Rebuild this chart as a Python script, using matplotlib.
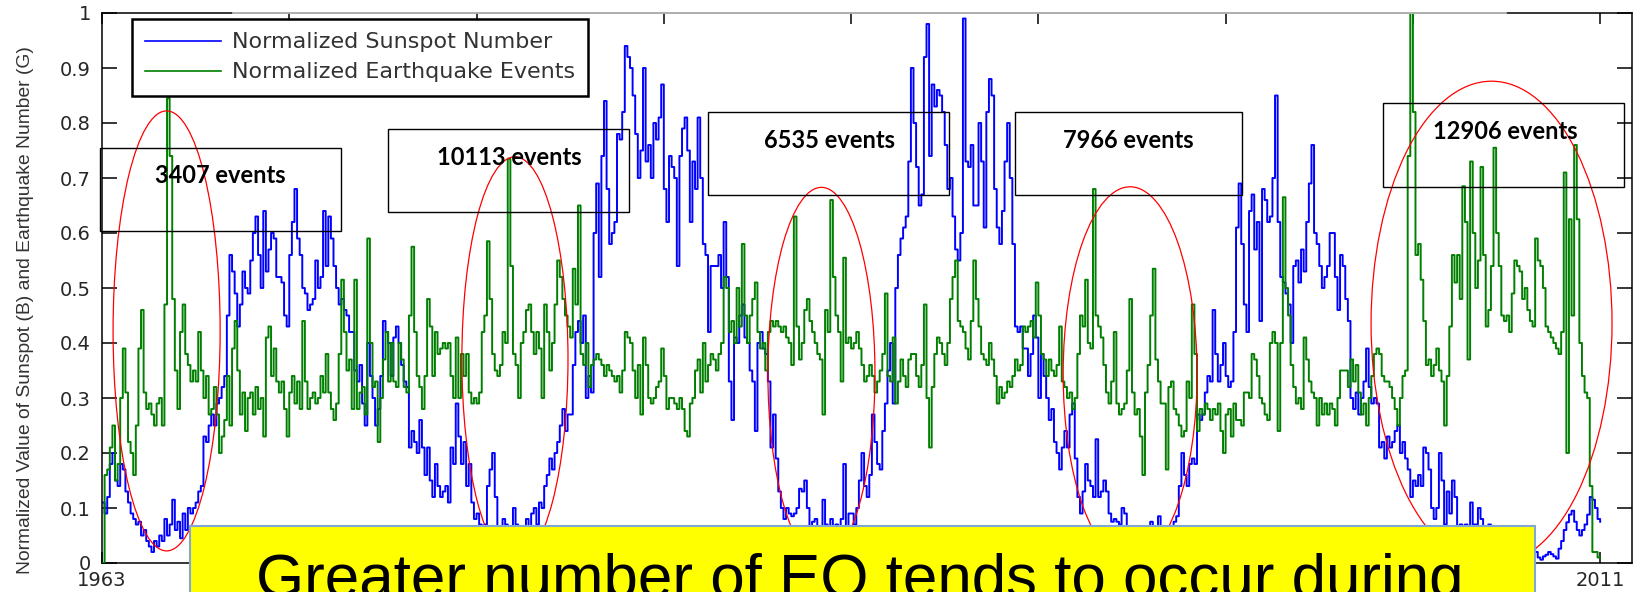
import numpy as np
import matplotlib
matplotlib.use("Agg")
import matplotlib.pyplot as plt
from matplotlib.patches import Ellipse, Rectangle
from matplotlib.lines import Line2D

# ---------------- data (monthly, Jan 1963 .. Jan 2011) ----------------
sunspot = [
    0.11, 0.09, 0.12, 0.18, 0.20, 0.15, 0.14, 0.18, 0.17, 0.13, 0.11, 0.09,   # 1963
    0.08, 0.07, 0.075, 0.05, 0.06, 0.04, 0.03, 0.02, 0.04, 0.03, 0.05, 0.04,  # 1964
    0.08, 0.05, 0.07, 0.115, 0.06, 0.075, 0.045, 0.09, 0.06, 0.10, 0.09, 0.10,  # 1965
    0.11, 0.13, 0.14, 0.23, 0.22, 0.25, 0.27, 0.25, 0.29, 0.30, 0.32, 0.34,   # 1966
    0.45, 0.56, 0.53, 0.49, 0.43, 0.47, 0.53, 0.50, 0.49, 0.55, 0.60, 0.63,   # 1967
    0.56, 0.50, 0.64, 0.53, 0.57, 0.60, 0.59, 0.52, 0.52, 0.51, 0.45, 0.43,   # 1968
    0.56, 0.62, 0.68, 0.59, 0.56, 0.50, 0.49, 0.46, 0.47, 0.48, 0.55, 0.50,   # 1969
    0.52, 0.64, 0.54, 0.63, 0.59, 0.54, 0.50, 0.47, 0.48, 0.46, 0.45, 0.42,   # 1970
    0.42, 0.35, 0.33, 0.36, 0.29, 0.25, 0.40, 0.34, 0.30, 0.25, 0.28, 0.34,   # 1971
    0.44, 0.42, 0.40, 0.34, 0.41, 0.43, 0.40, 0.36, 0.33, 0.32, 0.21, 0.24,   # 1972
    0.22, 0.20, 0.26, 0.21, 0.16, 0.21, 0.15, 0.12, 0.18, 0.14, 0.12, 0.13,   # 1973
    0.14, 0.11, 0.21, 0.18, 0.29, 0.23, 0.18, 0.22, 0.14, 0.18, 0.11, 0.08,   # 1974
    0.09, 0.07, 0.05, 0.07, 0.14, 0.17, 0.20, 0.12, 0.06, 0.04, 0.08, 0.07,   # 1975
    0.06, 0.04, 0.10, 0.07, 0.05, 0.04, 0.06, 0.08, 0.06, 0.09, 0.10, 0.07,   # 1976
    0.11, 0.10, 0.14, 0.16, 0.19, 0.17, 0.20, 0.22, 0.25, 0.28, 0.24, 0.27,   # 1977
    0.27, 0.36, 0.42, 0.44, 0.40, 0.45, 0.30, 0.34, 0.31, 0.60, 0.69, 0.52,   # 1978
    0.74, 0.84, 0.68, 0.58, 0.60, 0.62, 0.78, 0.77, 0.82, 0.94, 0.92, 0.90,   # 1979
    0.85, 0.78, 0.70, 0.75, 0.90, 0.73, 0.76, 0.70, 0.80, 0.77, 0.81, 0.87,   # 1980
    0.68, 0.62, 0.74, 0.72, 0.70, 0.54, 0.74, 0.79, 0.81, 0.75, 0.62, 0.73,   # 1981
    0.68, 0.81, 0.70, 0.58, 0.56, 0.42, 0.54, 0.54, 0.54, 0.56, 0.50, 0.62,   # 1982
    0.52, 0.33, 0.26, 0.41, 0.40, 0.45, 0.47, 0.41, 0.40, 0.35, 0.33, 0.24,   # 1983
    0.40, 0.42, 0.39, 0.38, 0.33, 0.21, 0.27, 0.19, 0.13, 0.10, 0.08, 0.10,   # 1984
    0.09, 0.085, 0.09, 0.10, 0.135, 0.13, 0.15, 0.10, 0.05, 0.075, 0.08, 0.06,  # 1985
    0.06, 0.115, 0.07, 0.06, 0.08, 0.06, 0.07, 0.05, 0.08, 0.18, 0.06, 0.09,  # 1986
    0.09, 0.07, 0.10, 0.15, 0.20, 0.14, 0.12, 0.16, 0.27, 0.22, 0.18, 0.17,   # 1987
    0.24, 0.29, 0.35, 0.40, 0.29, 0.50, 0.56, 0.59, 0.61, 0.63, 0.73, 0.90,   # 1988
    0.80, 0.72, 0.65, 0.67, 0.92, 0.98, 0.74, 0.87, 0.83, 0.86, 0.85, 0.82,   # 1989
    0.76, 0.68, 0.70, 0.63, 0.57, 0.55, 0.60, 0.99, 0.73, 0.72, 0.76, 0.65,   # 1990
    0.65, 0.80, 0.73, 0.61, 0.82, 0.88, 0.85, 0.68, 0.61, 0.58, 0.64, 0.73,   # 1991
    0.80, 0.70, 0.58, 0.43, 0.42, 0.43, 0.39, 0.39, 0.34, 0.38, 0.45, 0.41,   # 1992
    0.30, 0.38, 0.34, 0.30, 0.26, 0.28, 0.22, 0.20, 0.17, 0.21, 0.24, 0.21,   # 1993
    0.27, 0.29, 0.19, 0.12, 0.09, 0.13, 0.18, 0.15, 0.14, 0.12, 0.225, 0.12,  # 1994
    0.13, 0.15, 0.13, 0.09, 0.075, 0.08, 0.075, 0.07, 0.10, 0.09, 0.06, 0.05,  # 1995
    0.05, 0.035, 0.03, 0.04, 0.035, 0.03, 0.06, 0.075, 0.04, 0.035, 0.085, 0.06,  # 1996
    0.04, 0.045, 0.03, 0.05, 0.075, 0.085, 0.14, 0.20, 0.16, 0.14, 0.18, 0.19,  # 1997
    0.18, 0.27, 0.26, 0.27, 0.31, 0.34, 0.33, 0.46, 0.38, 0.33, 0.36, 0.40,   # 1998
    0.34, 0.32, 0.33, 0.42, 0.61, 0.69, 0.58, 0.47, 0.42, 0.64, 0.67, 0.57,   # 1999
    0.62, 0.44, 0.68, 0.66, 0.62, 0.63, 0.70, 0.85, 0.62, 0.52, 0.51, 0.49,   # 2000
    0.47, 0.40, 0.54, 0.55, 0.51, 0.57, 0.53, 0.62, 0.69, 0.76, 0.60, 0.58,   # 2001
    0.54, 0.50, 0.52, 0.54, 0.60, 0.60, 0.52, 0.46, 0.56, 0.54, 0.48, 0.44,   # 2002
    0.30, 0.28, 0.31, 0.27, 0.30, 0.33, 0.39, 0.32, 0.29, 0.30, 0.29, 0.21,   # 2003
    0.22, 0.19, 0.23, 0.21, 0.22, 0.24, 0.25, 0.20, 0.22, 0.19, 0.17, 0.12,   # 2004
    0.15, 0.14, 0.16, 0.14, 0.21, 0.20, 0.17, 0.10, 0.08, 0.10, 0.20, 0.15,   # 2005
    0.07, 0.13, 0.09, 0.15, 0.12, 0.06, 0.07, 0.06, 0.07, 0.06, 0.11, 0.07,   # 2006
    0.07, 0.10, 0.08, 0.06, 0.05, 0.07, 0.05, 0.04, 0.05, 0.04, 0.03, 0.04,   # 2007
    0.02, 0.03, 0.05, 0.03, 0.02, 0.01, 0.005, 0.005, 0.01, 0.02, 0.03, 0.02,  # 2008
    0.01, 0.006, 0.012, 0.015, 0.02, 0.016, 0.012, 0.008, 0.026, 0.04, 0.06, 0.074,  # 2009
    0.088, 0.095, 0.075, 0.06, 0.05, 0.06, 0.07, 0.088, 0.12, 0.115, 0.10, 0.08,  # 2010
    0.075,                                                                     # 2011
]

earthquakes = [
    0.0, 0.16, 0.17, 0.21, 0.25, 0.15, 0.18, 0.30, 0.39, 0.31, 0.22, 0.20,    # 1963
    0.16, 0.25, 0.39, 0.46, 0.31, 0.28, 0.29, 0.27, 0.25, 0.29, 0.30, 0.25,   # 1964
    0.47, 0.845, 0.74, 0.48, 0.35, 0.28, 0.42, 0.47, 0.38, 0.36, 0.33, 0.35,  # 1965
    0.33, 0.42, 0.35, 0.30, 0.34, 0.27, 0.28, 0.32, 0.27, 0.20, 0.23, 0.26,   # 1966
    0.34, 0.25, 0.39, 0.44, 0.35, 0.27, 0.31, 0.24, 0.30, 0.31, 0.27, 0.32,   # 1967
    0.28, 0.30, 0.23, 0.41, 0.43, 0.34, 0.39, 0.33, 0.31, 0.33, 0.28, 0.23,   # 1968
    0.31, 0.34, 0.29, 0.33, 0.28, 0.44, 0.33, 0.28, 0.30, 0.31, 0.29, 0.30,   # 1969
    0.34, 0.31, 0.38, 0.31, 0.28, 0.26, 0.29, 0.38, 0.515, 0.42, 0.35, 0.37,  # 1970
    0.28, 0.515, 0.28, 0.31, 0.32, 0.27, 0.59, 0.40, 0.32, 0.33, 0.22, 0.30,  # 1971
    0.37, 0.42, 0.33, 0.40, 0.33, 0.32, 0.40, 0.37, 0.32, 0.31, 0.45, 0.575,  # 1972
    0.42, 0.34, 0.32, 0.28, 0.34, 0.48, 0.43, 0.34, 0.42, 0.38, 0.39, 0.40,   # 1973
    0.39, 0.40, 0.34, 0.30, 0.41, 0.30, 0.38, 0.34, 0.38, 0.31, 0.29, 0.30,   # 1974
    0.29, 0.31, 0.42, 0.45, 0.585, 0.48, 0.38, 0.35, 0.34, 0.36, 0.42, 0.40,  # 1975
    0.735, 0.54, 0.38, 0.36, 0.30, 0.40, 0.42, 0.46, 0.47, 0.42, 0.38, 0.42,  # 1976
    0.39, 0.30, 0.47, 0.42, 0.35, 0.40, 0.47, 0.55, 0.52, 0.48, 0.45, 0.43,   # 1977
    0.41, 0.535, 0.47, 0.65, 0.38, 0.36, 0.40, 0.32, 0.36, 0.37, 0.38, 0.37,  # 1978
    0.36, 0.34, 0.36, 0.35, 0.34, 0.33, 0.34, 0.31, 0.35, 0.42, 0.41, 0.40,   # 1979
    0.35, 0.30, 0.36, 0.27, 0.41, 0.36, 0.30, 0.29, 0.30, 0.32, 0.33, 0.39,   # 1980
    0.34, 0.28, 0.30, 0.30, 0.29, 0.28, 0.30, 0.28, 0.24, 0.23, 0.29, 0.30,   # 1981
    0.35, 0.37, 0.31, 0.40, 0.33, 0.36, 0.38, 0.37, 0.35, 0.38, 0.40, 0.52,   # 1982
    0.50, 0.42, 0.44, 0.40, 0.50, 0.43, 0.58, 0.45, 0.40, 0.45, 0.48, 0.51,   # 1983
    0.42, 0.39, 0.40, 0.35, 0.42, 0.44, 0.43, 0.44, 0.43, 0.42, 0.43, 0.41,   # 1984
    0.40, 0.36, 0.63, 0.43, 0.37, 0.40, 0.46, 0.48, 0.44, 0.42, 0.40, 0.38,   # 1985
    0.37, 0.27, 0.46, 0.42, 0.66, 0.52, 0.45, 0.42, 0.33, 0.555, 0.40, 0.41,  # 1986
    0.39, 0.40, 0.42, 0.39, 0.36, 0.33, 0.34, 0.36, 0.34, 0.31, 0.33, 0.35,   # 1987
    0.38, 0.49, 0.34, 0.33, 0.41, 0.29, 0.33, 0.37, 0.34, 0.32, 0.37, 0.38,   # 1988
    0.38, 0.34, 0.32, 0.36, 0.47, 0.30, 0.21, 0.32, 0.38, 0.41, 0.40, 0.38,   # 1989
    0.36, 0.40, 0.48, 0.52, 0.55, 0.44, 0.43, 0.42, 0.39, 0.37, 0.44, 0.55,   # 1990
    0.48, 0.43, 0.38, 0.37, 0.36, 0.40, 0.37, 0.34, 0.29, 0.32, 0.30, 0.31,   # 1991
    0.33, 0.32, 0.34, 0.37, 0.35, 0.36, 0.43, 0.42, 0.43, 0.44, 0.41, 0.51,   # 1992
    0.45, 0.38, 0.37, 0.34, 0.37, 0.35, 0.34, 0.36, 0.43, 0.33, 0.32, 0.30,   # 1993
    0.31, 0.28, 0.30, 0.38, 0.45, 0.43, 0.515, 0.40, 0.39, 0.68, 0.45, 0.43,  # 1994
    0.41, 0.36, 0.31, 0.29, 0.33, 0.42, 0.29, 0.27, 0.28, 0.29, 0.35, 0.48,   # 1995
    0.31, 0.27, 0.28, 0.23, 0.16, 0.31, 0.36, 0.45, 0.535, 0.37, 0.33, 0.29,  # 1996
    0.29, 0.17, 0.32, 0.33, 0.28, 0.27, 0.25, 0.23, 0.24, 0.33, 0.30, 0.47,   # 1997
    0.38, 0.24, 0.28, 0.27, 0.29, 0.28, 0.26, 0.28, 0.27, 0.29, 0.24, 0.20,   # 1998
    0.27, 0.28, 0.23, 0.29, 0.26, 0.26, 0.25, 0.31, 0.31, 0.30, 0.38, 0.37,   # 1999
    0.34, 0.30, 0.29, 0.27, 0.26, 0.40, 0.42, 0.40, 0.24, 0.40, 0.665, 0.50,  # 2000
    0.45, 0.36, 0.32, 0.29, 0.30, 0.28, 0.41, 0.37, 0.33, 0.31, 0.30, 0.25,   # 2001
    0.30, 0.27, 0.29, 0.27, 0.29, 0.28, 0.25, 0.30, 0.35, 0.35, 0.35, 0.32,   # 2002
    0.37, 0.33, 0.36, 0.31, 0.27, 0.29, 0.25, 0.30, 0.34, 0.38, 0.39, 0.38,   # 2003
    0.34, 0.33, 0.33, 0.32, 0.30, 0.28, 0.25, 0.30, 0.34, 0.35, 0.74, 1.0,    # 2004
    0.82, 0.56, 0.58, 0.515, 0.44, 0.36, 0.37, 0.34, 0.36, 0.39, 0.35, 0.33,  # 2005
    0.25, 0.34, 0.43, 0.56, 0.51, 0.56, 0.48, 0.685, 0.62, 0.37, 0.73, 0.60,  # 2006
    0.50, 0.55, 0.72, 0.56, 0.43, 0.46, 0.54, 0.755, 0.60, 0.54, 0.45, 0.44,  # 2007
    0.45, 0.42, 0.49, 0.55, 0.54, 0.53, 0.48, 0.50, 0.46, 0.44, 0.43, 0.59,   # 2008
    0.55, 0.54, 0.50, 0.43, 0.42, 0.41, 0.40, 0.39, 0.38, 0.42, 0.71, 0.20,   # 2009
    0.625, 0.45, 0.76, 0.625, 0.40, 0.34, 0.31, 0.30, 0.14, 0.02, 0.02, 0.01,  # 2010
    0.01,                                                                      # 2011
]

start_year = 1963
x_ticks = [1963, 1969, 1975, 1981, 1987, 1993, 1999, 2005, 2011]
# only the end labels are visible in the reference (the rest sit under the banner)
x_tick_labels = ["1963", "", "", "", "", "", "", "", "2011"]
y_ticks = [0, 0.1, 0.2, 0.3, 0.4, 0.5, 0.6, 0.7, 0.8, 0.9, 1]
y_tick_labels = ["0", "0.1", "0.2", "0.3", "0.4", "0.5", "0.6", "0.7", "0.8", "0.9", "1"]

series_labels = ["Normalized Sunspot Number", "Normalized Earthquake Events"]
event_labels = ["3407 events", "10113 events", "6535 events", "7966 events", "12906 events"]
# annotation geometry (data units: year, normalized value)
event_text_pos = [(1966.8, 0.704), (1976.05, 0.738), (1986.3, 0.769), (1995.87, 0.769), (2007.95, 0.784)]
event_boxes = [(1962.94, 0.604, 7.72, 0.151), (1972.16, 0.638, 7.73, 0.151),
               (1982.42, 0.669, 7.72, 0.151), (1992.25, 0.669, 7.28, 0.151),
               (2004.04, 0.684, 7.73, 0.152)]
ellipses = [(1965.07, 0.422, 3.43, 0.80), (1976.23, 0.371, 3.40, 0.735),
            (1986.05, 0.345, 3.43, 0.676), (1995.94, 0.344, 4.29, 0.68),
            (2007.52, 0.436, 7.72, 0.88)]
banner_text = "Greater number of EQ tends to occur during"
y_label = "Normalized Value of Sunspot (B) and Earthquake Number (G)"

# ---------------- figure ----------------
W, H = 1643, 592
fig = plt.figure(figsize=(W / 100, H / 100), dpi=100)
fig.patch.set_facecolor("white")

ax = fig.add_axes([102 / W, (H - 563) / H, (1632 - 102) / W, 550 / H])

t = start_year + np.arange(len(sunspot)) / 12.0
ax.plot(t, sunspot, color="#0000ff", lw=1.4, drawstyle="steps-post",
        label=series_labels[0], zorder=2)
ax.plot(t, earthquakes, color="#007f00", lw=1.4, drawstyle="steps-post",
        label=series_labels[1], zorder=3)

ax.set_xlim(1963, 2012.02)
ax.set_ylim(0, 1)
ax.set_xticks(x_ticks)
ax.set_xticklabels(x_tick_labels)
ax.set_yticks(y_ticks)
ax.set_yticklabels(y_tick_labels)
ax.tick_params(axis="both", direction="in", top=True, right=True, width=1.1,
               colors="black", labelcolor="#262626", labelsize=14)
ax.tick_params(axis="y", length=11, pad=8)
ax.tick_params(axis="x", length=8, pad=6)
for lbl in ax.get_xticklabels() + ax.get_yticklabels():
    lbl.set_family("DejaVu Sans")
for sp in ax.spines.values():
    sp.set_linewidth(1.1)
    sp.set_color("black")

fig.text(26 / W, 1 - 310 / H, y_label, rotation=90, ha="center", va="center",
         fontsize=13.9, color="#333333", family="Liberation Sans")

leg = ax.legend(loc="upper left", bbox_to_anchor=(30 / 1530, 1 - 6 / 550),
                borderaxespad=0, frameon=True, fancybox=False,
                framealpha=1, edgecolor="black", handlelength=3.4,
                handletextpad=0.5, borderpad=0.6, labelspacing=0.45,
                prop={"family": "DejaVu Sans", "size": 16})
leg.get_frame().set_linewidth(1.8)
for txt in leg.get_texts():
    txt.set_color("#333333")
for ln in leg.get_lines():
    ln.set_linewidth(1.2)
leg.set_zorder(6)

for (cx, cy, w, h) in ellipses:
    ax.add_patch(Ellipse((cx, cy), w, h, fill=False, edgecolor="#ff0000",
                         lw=0.9, zorder=4, clip_on=False))
for (x0, y0, w, h) in event_boxes:
    ax.add_patch(Rectangle((x0, y0), w, h, fill=False, edgecolor="black",
                           lw=1.0, zorder=5, clip_on=False))
for (px, py), lab in zip(event_text_pos, event_labels):
    ax.text(px, py, lab, ha="center", va="center", fontsize=17,
            fontweight="bold", family="Lato", color="black", zorder=7)

# light-grey edge of the (cropped) title panel lying over the top spine
fig.add_artist(Line2D([233 / W, 1506 / W], [1 - 13 / H, 1 - 13 / H],
                      transform=fig.transFigure, color="#c8c8c8", lw=1.2,
                      zorder=3))

# yellow banner over the bottom of the chart
fig.add_artist(Rectangle((190 / W, -0.1), (1535 - 190) / W, 0.1 + (H - 526) / H,
                         transform=fig.transFigure, facecolor="#ffff00",
                         edgecolor="#7fa6d5", lw=1.5, zorder=10))
fig.text(860 / W, (H - 597) / H, banner_text, ha="center", va="baseline",
         fontsize=44.6, family="Liberation Sans", color="black", zorder=11)

fig.savefig("out.png", dpi=100)
